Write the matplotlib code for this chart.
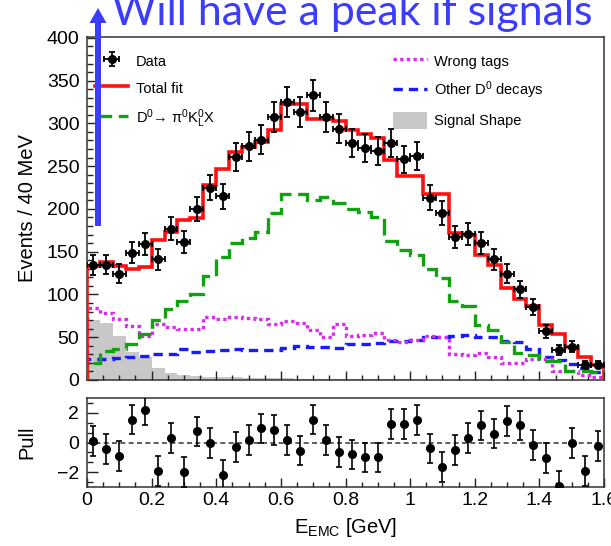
import numpy as np
import matplotlib
matplotlib.use('Agg')
import matplotlib.pyplot as plt
from matplotlib.patches import FancyArrow, Patch
from matplotlib.lines import Line2D
from matplotlib.ticker import MultipleLocator

plt.rcParams['font.family'] = ['Liberation Sans', 'DejaVu Sans']
plt.rcParams['mathtext.fontset'] = 'custom'
plt.rcParams['mathtext.rm'] = 'Liberation Sans'
plt.rcParams['mathtext.it'] = 'Liberation Sans:italic'
plt.rcParams['mathtext.bf'] = 'Liberation Sans:bold'

# 40 bins of 40 MeV in E_EMC
bin_edges = np.linspace(0.0, 1.6, 41)
bin_centers = 0.5 * (bin_edges[:-1] + bin_edges[1:])

data = [134, 135, 124, 149, 159, 141, 177, 161, 200, 225,
        215, 261, 273, 281, 308, 325, 313, 333, 307, 294,
        277, 271, 268, 277, 258, 262, 213, 195, 167, 171,
        160, 141, 124, 106, 85, 57, 35, 39, 18, 18]
total_fit = [133, 138, 133, 130, 132, 164, 173, 187, 189, 228,
             247, 266, 272, 278, 292, 323, 323, 305, 305, 303,
             292, 288, 283, 257, 238, 238, 218, 218, 172, 170,
             146, 134, 108, 95, 86, 64, 54, 39, 27, 17.5]
signal_mode = [20, 34, 36, 42, 54, 70, 83, 92, 101, 122,
               144, 160, 166, 173, 195, 217, 217, 211, 214, 207,
               200, 196, 190, 163, 152, 146, 130, 119, 92, 87,
               64, 59, 45, 32, 29, 22, 22, 11, 11, 9]
wrong_tags = [84, 78.5, 71, 63, 51, 66, 62, 60, 60, 74,
              71, 74, 72, 71, 66, 69, 67, 58, 50.5, 66,
              51, 53, 54.5, 47, 44.5, 46.7, 51, 50.5, 30.5, 29,
              31, 27, 20, 19.5, 24, 24, 10, 10, 6, 4]
other_d0 = [25, 25, 26, 27, 28, 30, 30, 36, 33, 34,
            35, 36, 35, 35, 35, 37, 39.7, 39, 39, 37,
            41.6, 41.6, 43, 45.5, 45.5, 46.7, 49.8, 50, 51, 52.5,
            50.5, 50, 46, 44, 36, 27, 23, 18.7, 13.6, 9.7]
signal_shape = [70, 67, 52, 33, 27, 14, 8.5, 6, 5, 4,
                3.5, 3, 2.5, 2.2, 2, 1.8, 1.6, 1.4, 1.2, 1.1,
                1, 0.9, 0.8, 0.7, 0.6, 0.5, 0.5, 0.4, 0.4, 0.3,
                0.3, 0.3, 0.2, 0.2, 0.2, 0.2, 0.1, 0.1, 0.1, 0.1]
pulls = [0.1, -0.45, -0.9, 1.55, 2.2, -1.9, 0.3, -2.0, 0.75, -0.05,
         -2.2, -0.3, 0.15, 0.95, 0.85, 0.15, -0.55, 1.55, 0.15, -0.65,
         -0.8, -1.0, -1.0, 1.25, 1.25, 1.5, -0.4, -1.65, -0.5, 0.3,
         1.15, 0.6, 1.45, 1.15, -0.15, -1.05, -2.95, -0.05, -1.9, -0.25]

RED = '#ff1010'
GREEN = '#13a013'
MAGENTA = '#d92cf0'
BLUE = '#1a1aff'
GRAY = '#c8c8c8'

W, H = 611, 546
fig = plt.figure(figsize=(W / 100, H / 100), dpi=100)
ax = fig.add_axes([87 / W, 1 - 380 / H, 517 / W, 343 / H])
axp = fig.add_axes([87 / W, 1 - 487 / H, 517 / W, 89 / H])

# main panel
ax.stairs(signal_shape, bin_edges, fill=True, color=GRAY, lw=0, zorder=1)
ax.stairs(other_d0, bin_edges, color=BLUE, lw=2.4, ls=(0, (2.8, 1.8)), zorder=2)
ax.stairs(wrong_tags, bin_edges, color=MAGENTA, lw=2.4, ls=(0, (1, 1)), zorder=3)
ax.stairs(signal_mode, bin_edges, color=GREEN, lw=2.4, ls=(0, (5, 2)), zorder=4)
ax.stairs(total_fit, bin_edges, color=RED, lw=2.6, zorder=5)
eb = ax.errorbar(bin_centers, data, xerr=np.diff(bin_edges) / 2, yerr=np.sqrt(data),
                 fmt='o', color='black', ms=5.5, elinewidth=1.3, capsize=2,
                 capthick=1.3, zorder=6)

ax.set_xlim(0, 1.6)
ax.set_ylim(0, 401)
ax.xaxis.set_major_locator(MultipleLocator(0.2))
ax.xaxis.set_minor_locator(MultipleLocator(0.05))
ax.yaxis.set_major_locator(MultipleLocator(50))
ax.yaxis.set_minor_locator(MultipleLocator(10))
ax.tick_params(labelbottom=False)
ax.set_ylabel('Events / 40 MeV', fontsize=14.5)
ax.yaxis.set_label_coords(-0.097, 0.5)

h_fit = Line2D([], [], color=RED, lw=2.6)
h_sig = Line2D([], [], color=GREEN, lw=2.4, ls=(0, (5, 2)))
h_wrong = Line2D([], [], color=MAGENTA, lw=2.4, ls=(0, (1, 1)))
h_other = Line2D([], [], color=BLUE, lw=2.4, ls=(0, (2.8, 1.8)))
h_shape = Patch(facecolor=GRAY, edgecolor='none')

leg_kw = dict(loc='upper left', frameon=False, fontsize=10.5, handlelength=2.3,
              handletextpad=0.5, handleheight=1.4, labelspacing=0.72,
              borderaxespad=0, borderpad=0)
leg1 = ax.legend([eb, h_fit, h_sig],
                 ['Data', 'Total fit', 'D$^{0}$→ π$^{0}$K$^{0}_{\\mathrm{L}}$X'],
                 bbox_to_anchor=(0.015, 0.955), **leg_kw)
ax.add_artist(leg1)
ax.legend([h_wrong, h_other, h_shape],
          ['Wrong tags', 'Other D$^{0}$ decays', 'Signal Shape'],
          bbox_to_anchor=(0.592, 0.955), **leg_kw)

# pull panel
axp.axhline(0, color='#444444', lw=1.2, ls=(0, (3, 2)), zorder=1)
axp.errorbar(bin_centers, pulls, yerr=1.0, fmt='o', color='black', ms=5.5,
             elinewidth=1.2, capsize=2, capthick=1.2, zorder=3)
axp.set_xlim(0, 1.6)
axp.set_ylim(-3, 3)
axp.xaxis.set_major_locator(MultipleLocator(0.2))
axp.xaxis.set_minor_locator(MultipleLocator(0.05))
axp.yaxis.set_major_locator(MultipleLocator(2))
axp.yaxis.set_minor_locator(MultipleLocator(2 / 3))
axp.xaxis.set_major_formatter(plt.FuncFormatter(lambda v, p: f'{v:g}'))
axp.set_ylabel('Pull', fontsize=14.5)
axp.yaxis.set_label_coords(-0.097, 0.5)
axp.set_xlabel('E$_{\\mathrm{EMC}}$ [GeV]', fontsize=14.5)
axp.xaxis.set_label_coords(0.5, -0.33)

for a in (ax, axp):
    a.tick_params(which='both', direction='in', top=False, right=False,
                  labelsize=14, width=1.0, color='#222222')
    a.tick_params(axis='y', which='major', length=8, pad=5.5)
    a.tick_params(axis='y', which='minor', length=4.5)
    a.tick_params(axis='x', which='major', length=6.5, pad=3.5)
    a.tick_params(axis='x', which='minor', length=3.5)
    for s in a.spines.values():
        s.set_linewidth(1.1)
        s.set_color('#333333')

# slide overlay: blue arrow and caption
fig.add_artist(FancyArrow(0.98, 3.20, 0, 2.18, width=0.06, head_width=0.17,
                          head_length=0.15, length_includes_head=True,
                          color='#3d3dff', lw=0, transform=fig.dpi_scale_trans,
                          zorder=10))
cap = fig.text(112 / W, 1 - 25 / H, 'Will have a peak if signals', color='#3c3cff',
               fontsize=30, family=['Lato', 'DejaVu Sans'], ha='left', va='baseline',
               zorder=10)
fig.canvas.draw()
w = cap.get_window_extent().width
cap.set_fontsize(30 * 481 / w)

fig.savefig('out.png', dpi=100)
